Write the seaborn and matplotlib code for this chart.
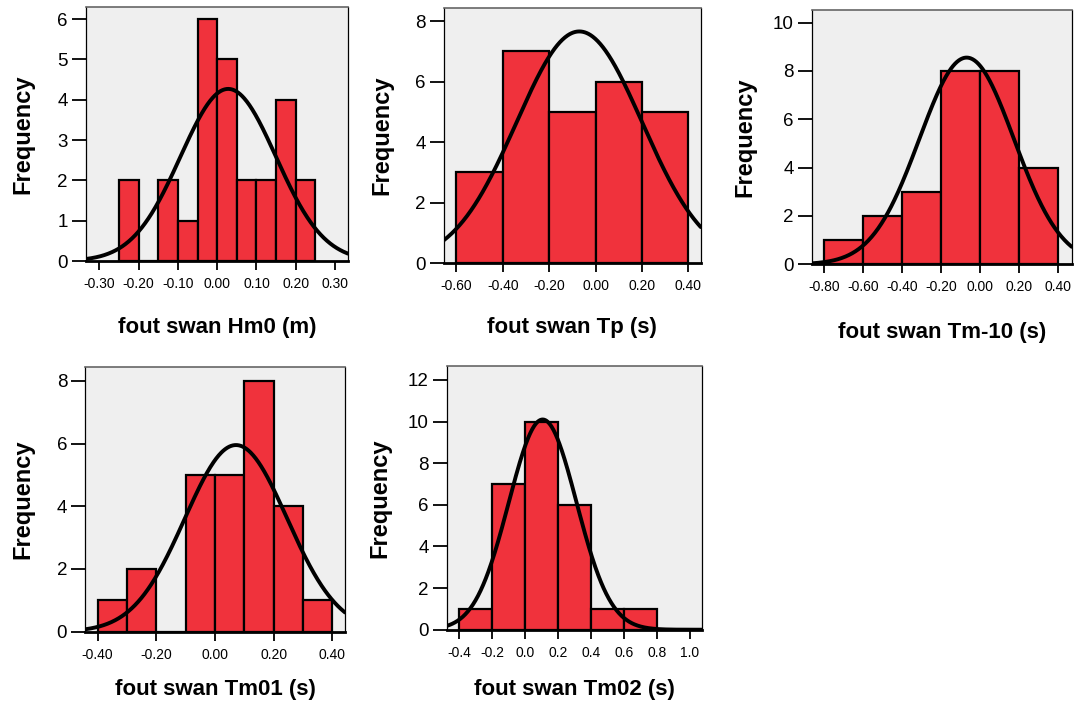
import numpy as np
import pandas as pd
import matplotlib
matplotlib.use("Agg")
import matplotlib.pyplot as plt
import seaborn as sns

sns.set_theme(style="white")
plt.rcParams['font.family'] = ['Liberation Sans', 'DejaVu Sans']
plt.rcParams['text.color'] = 'black'
plt.rcParams['axes.labelcolor'] = 'black'
plt.rcParams['xtick.color'] = 'black'
plt.rcParams['ytick.color'] = 'black'

N = 26

# Panel data: bin edges, counts, fitted normal (mean, sd), labels, ticks
hm0_edges = [-0.25, -0.20, -0.15, -0.10, -0.05, 0.00, 0.05, 0.10, 0.15, 0.20, 0.25]
hm0_counts = [2, 0, 2, 1, 6, 5, 2, 2, 4, 2]
hm0_mu, hm0_sd = 0.028, 0.1215
hm0_xticks = [-0.30, -0.20, -0.10, 0.00, 0.10, 0.20, 0.30]
hm0_yticks = [0, 1, 2, 3, 4, 5, 6]
hm0_label = "fout swan Hm0 (m)"

tp_edges = [-0.60, -0.40, -0.20, 0.00, 0.20, 0.40]
tp_counts = [3, 7, 5, 6, 5]
tp_mu, tp_sd = -0.070, 0.271
tp_xticks = [-0.60, -0.40, -0.20, 0.00, 0.20, 0.40]
tp_yticks = [0, 2, 4, 6, 8]
tp_label = "fout swan Tp (s)"

tm10_edges = [-0.80, -0.60, -0.40, -0.20, 0.00, 0.20, 0.40]
tm10_counts = [1, 2, 3, 8, 8, 4]
tm10_mu, tm10_sd = -0.070, 0.2426
tm10_xticks = [-0.80, -0.60, -0.40, -0.20, 0.00, 0.20, 0.40]
tm10_yticks = [0, 2, 4, 6, 8, 10]
tm10_label = "fout swan Tm-10 (s)"

tm01_edges = [-0.40, -0.30, -0.20, -0.10, 0.00, 0.10, 0.20, 0.30, 0.40]
tm01_counts = [1, 2, 0, 5, 5, 8, 4, 1]
tm01_mu, tm01_sd = 0.0715, 0.1743
tm01_xticks = [-0.40, -0.20, 0.00, 0.20, 0.40]
tm01_yticks = [0, 2, 4, 6, 8]
tm01_label = "fout swan Tm01 (s)"

tm02_edges = [-0.40, -0.20, 0.00, 0.20, 0.40, 0.60, 0.80]
tm02_counts = [1, 7, 10, 6, 1, 1]
tm02_mu, tm02_sd = 0.106, 0.2054
tm02_xticks = [-0.4, -0.2, 0.0, 0.2, 0.4, 0.6, 0.8, 1.0]
tm02_yticks = [0, 2, 4, 6, 8, 10, 12]
tm02_label = "fout swan Tm02 (s)"

W, H = 1080, 704
fig = plt.figure(figsize=(W / 100, H / 100), dpi=100)

BAR = "#F0323C"
BG = "#EFEFEF"


def add_axes_px(left, top, right, bottom):
    return fig.add_axes([left / W, 1 - bottom / H, (right - left) / W, (bottom - top) / H])


def panel(rect, edges, counts, mu, sd, xlim, ylim, xticks, yticks, xfmt, label,
          ylab_x, xlab_y):
    left, top, right, bottom = rect
    ax = add_axes_px(*rect)
    ax.set_facecolor(BG)
    e = np.array(edges, dtype=float)
    centers = (e[:-1] + e[1:]) / 2
    df = pd.DataFrame({"value": centers, "count": np.array(counts, dtype=float)})
    sns.histplot(data=df, x="value", weights="count", bins=list(e), ax=ax,
                 color=BAR, alpha=1.0, edgecolor="black", linewidth=1.6, zorder=2)
    w = e[1] - e[0]
    xs = np.linspace(xlim[0], xlim[1], 400)
    ys = N * w * np.exp(-0.5 * ((xs - mu) / sd) ** 2) / (sd * np.sqrt(2 * np.pi))
    sns.lineplot(x=xs, y=ys, ax=ax, color="black", linewidth=2.8, zorder=3)
    ax.set_xlim(*xlim)
    ax.set_ylim(*ylim)
    ax.set_xticks(xticks)
    ax.set_xticklabels([xfmt.format(t) for t in xticks], fontsize=10)
    ax.set_yticks(yticks)
    ax.set_yticklabels([str(t) for t in yticks], fontsize=13.5)
    ax.tick_params(axis="y", direction="out", length=10, width=1.3, pad=3, left=True)
    ax.tick_params(axis="x", direction="out", length=6.5, width=1.3, pad=5, bottom=True)
    for s in ["left", "right"]:
        ax.spines[s].set_color("black")
        ax.spines[s].set_linewidth(0.9)
    ax.spines["top"].set_color("#666666")
    ax.spines["top"].set_linewidth(1.2)
    ax.spines["bottom"].set_color("black")
    ax.spines["bottom"].set_linewidth(2.0)
    ax.set_xlabel(label, fontsize=16, fontweight="bold")
    ax.set_ylabel("Frequency", fontsize=17, fontweight="bold")
    ax.xaxis.set_label_coords(0.5, (bottom - xlab_y) / (bottom - top))
    ax.xaxis.label.set_va("center")
    ax.yaxis.set_label_coords((ylab_x - left) / (right - left), 0.5)
    ax.yaxis.label.set_va("center")
    return ax


panel((86, 7, 348, 261), hm0_edges, hm0_counts, hm0_mu, hm0_sd,
      (-0.334, 0.333), (0, 6.3), hm0_xticks, hm0_yticks, "{:.2f}", hm0_label,
      22.5, 328)
panel((444, 8.3, 700.7, 263), tp_edges, tp_counts, tp_mu, tp_sd,
      (-0.653, 0.453), (0, 8.42), tp_xticks, tp_yticks, "{:.2f}", tp_label,
      381.5, 328)
panel((811.7, 10, 1071.7, 264.3), tm10_edges, tm10_counts, tm10_mu, tm10_sd,
      (-0.865, 0.469), (0, 10.52), tm10_xticks, tm10_yticks, "{:.2f}", tm10_label,
      744.5, 332)
panel((85.3, 367.3, 345, 631.7), tm01_edges, tm01_counts, tm01_mu, tm01_sd,
      (-0.442, 0.443), (0, 8.43), tm01_xticks, tm01_yticks, "{:.2f}", tm01_label,
      22.5, 689)
panel((446.7, 366, 702.3, 629.7), tm02_edges, tm02_counts, tm02_mu, tm02_sd,
      (-0.4765, 1.075), (0, 12.67), tm02_xticks, tm02_yticks, "{:.1f}", tm02_label,
      380, 689)

fig.savefig("out.png", dpi=100, facecolor="white")
